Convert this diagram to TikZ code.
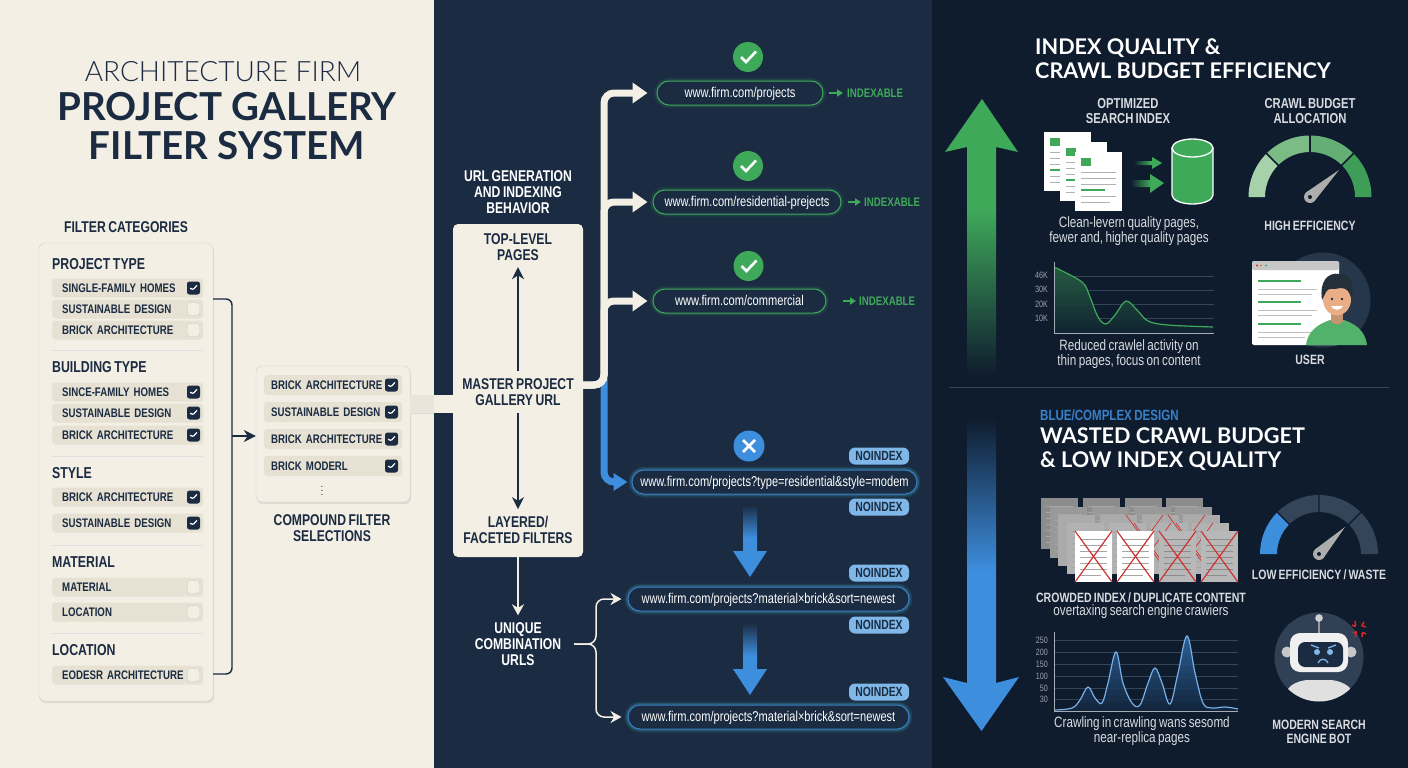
\documentclass[tikz,border=0pt]{standalone}
\usepackage{fontspec}
\usepackage{xcolor}
\usetikzlibrary{arrows.meta, positioning, calc, shadows}
\setmainfont{Liberation Sans}
\newfontfamily\narrowfont[FakeStretch=0.78, WordSpace=0.75]{Liberation Sans}
\newfontfamily\titlefont{Lato}
\newfontfamily\lightfont{Lato Light}
\definecolor{creambg}{HTML}{F3EFE4}
\definecolor{rowbg}{HTML}{E6E1D2}
\definecolor{midbg}{HTML}{1A2B42}
\definecolor{rightbg}{HTML}{0F1C2E}
\definecolor{inkblue}{HTML}{1A2B42}
\definecolor{okgreen}{HTML}{3FA95A}
\definecolor{noblue}{HTML}{3E8EDE}
\definecolor{softblue}{HTML}{7FB7E8}
\definecolor{lightgrey}{HTML}{D8DCE0}
\definecolor{gridline}{HTML}{34455A}
\definecolor{gaugea}{HTML}{A6D1AA}
\definecolor{gaugeb}{HTML}{7DBB86}
\definecolor{gaugec}{HTML}{64AF74}
\definecolor{gauged}{HTML}{3E9E58}
\definecolor{skin}{HTML}{E9AE85}
\definecolor{hair}{HTML}{23303A}
\pgfdeclareverticalshading{greenfade}{100bp}{color(0bp)=(rightbg); color(25bp)=(rightbg); color(55bp)=(okgreen); color(100bp)=(okgreen)}
\pgfdeclareverticalshading{bluefade}{100bp}{color(0bp)=(noblue); color(50bp)=(noblue); color(74bp)=(rightbg); color(100bp)=(rightbg)}
\pgfdeclareverticalshading{midfade}{100bp}{color(0bp)=(noblue); color(52bp)=(noblue); color(75bp)=(midbg); color(100bp)=(midbg)}
\pgfdeclarehorizontalshading{docfade}{100bp}{color(0bp)=(rightbg); color(26bp)=(rightbg); color(55bp)=(okgreen); color(100bp)=(okgreen)}
\tikzset{
    filterrow/.style={
        rectangle,
        rounded corners=3pt,
        fill=rowbg,
        minimum width=151pt,
        minimum height=19pt,
        text width=131pt,
        align=left,
        inner xsep=10pt,
        inner ysep=0pt,
        anchor=west,
        text=inkblue,
        font=\narrowfont\bfseries\fontsize{12.4}{13}\selectfont
    },
    selrow/.style={
        filterrow,
        minimum width=138pt,
        minimum height=20pt,
        text width=124pt,
        inner xsep=7pt
    },
    checkon/.style={
        rectangle,
        rounded corners=2.5pt,
        fill=inkblue,
        minimum size=13pt,
        inner sep=0pt,
        path picture={\draw[white, line width=1.2pt]
            ([shift={(-3.2,0)}]path picture bounding box.center) --
            ([shift={(-1,2.4)}]path picture bounding box.center) --
            ([shift={(3.4,-2.6)}]path picture bounding box.center);}
    },
    checkoff/.style={
        rectangle,
        rounded corners=2.5pt,
        draw=black!20,
        fill=creambg,
        minimum size=12.5pt,
        inner sep=0pt
    },
    card/.style={
        rectangle,
        rounded corners=6pt,
        draw=black!18,
        fill=creambg,
        drop shadow={opacity=0.18, shadow xshift=1pt, shadow yshift=-2pt}
    },
    sechead/.style={
        anchor=west,
        inner sep=0pt,
        text=inkblue,
        font=\narrowfont\bfseries\fontsize{15.8}{17}\selectfont
    },
    panelhead/.style={
        align=center,
        inner sep=0pt,
        font=\narrowfont\bfseries\fontsize{15.6}{16}\selectfont
    },
    subhead/.style={
        panelhead,
        text=lightgrey,
        font=\narrowfont\bfseries\fontsize{13.5}{14.5}\selectfont
    },
    divider/.style={
        draw=black!12,
        line width=0.7pt
    },
    urlok/.style={
        rectangle,
        rounded corners=12pt,
        draw=okgreen,
        line width=1pt,
        fill=midbg,
        minimum height=24pt,
        inner sep=0pt,
        text height=12pt,
        text depth=3pt,
        text=white,
        font=\narrowfont\fontsize{14.2}{15}\selectfont,
        preaction={draw=okgreen, line width=7pt, opacity=0.08},
        preaction={draw=okgreen, line width=4pt, opacity=0.14}
    },
    urlno/.style={
        urlok,
        draw=noblue!85!midbg,
        preaction={draw=noblue, line width=7pt, opacity=0.10},
        preaction={draw=noblue, line width=4pt, opacity=0.16}
    },
    badgeok/.style={
        circle,
        fill=okgreen,
        minimum size=30pt,
        inner sep=0pt,
        path picture={\draw[white, line width=2.6pt]
            ([shift={(-7,0)}]path picture bounding box.center) --
            ([shift={(-2,5)}]path picture bounding box.center) --
            ([shift={(8,-5.5)}]path picture bounding box.center);}
    },
    badgeno/.style={
        circle,
        fill=noblue,
        minimum size=31pt,
        inner sep=0pt,
        path picture={\draw[white, line width=2.8pt]
            ([shift={(-6,-6)}]path picture bounding box.center) --
            ([shift={(6,6)}]path picture bounding box.center)
            ([shift={(-6,6)}]path picture bounding box.center) --
            ([shift={(6,-6)}]path picture bounding box.center);}
    },
    noindex/.style={
        rectangle,
        rounded corners=6pt,
        fill=softblue,
        minimum width=60pt,
        minimum height=17pt,
        inner sep=0pt,
        text=inkblue,
        font=\narrowfont\bfseries\fontsize{13.3}{14}\selectfont
    },
    indexable/.style={
        anchor=west,
        inner sep=0pt,
        text=okgreen,
        font=\narrowfont\bfseries\fontsize{12.4}{13}\selectfont
    },
    okarrow/.style={
        draw=okgreen,
        line width=1.6pt,
        -{Triangle[length=6pt,width=7pt]}
    },
    bus/.style={
        draw=creambg,
        line width=7pt,
        rounded corners=10pt,
        -{Triangle[length=15pt,width=20pt]}
    },
    bluebus/.style={
        bus,
        draw=noblue,
        -{Triangle[length=14pt,width=17pt]}
    },
    inkwire/.style={
        draw=inkblue,
        line width=1.4pt,
        -{Stealth[length=12pt,width=12pt]}
    },
    whitewire/.style={
        draw=creambg,
        line width=1.5pt,
        rounded corners=8pt,
        -{Stealth[length=11pt,width=12pt]}
    },
    caption/.style={
        align=center,
        inner sep=0pt,
        text=lightgrey,
        font=\narrowfont\fontsize{15}{15}\selectfont
    },
    headline/.style={
        anchor=base west,
        inner sep=0pt,
        text=white,
        font=\titlefont\bfseries\fontsize{21.6}{24}\selectfont
    },
    ticklabel/.style={
        anchor=east,
        inner sep=0pt,
        text=lightgrey!70!rightbg,
        font=\narrowfont\fontsize{9.2}{10}\selectfont
    },
    plotgrid/.style={
        draw=gridline,
        line width=0.6pt
    },
    plotaxis/.style={
        draw=lightgrey!75!rightbg,
        line width=1pt
    }
}
% one sheet of the index stack
\newcommand{\docsheet}[4]{%
    \begin{scope}[shift={(#1,#2)}]
        \fill[#3] (0,0) rectangle (37,51);
        \draw[#4, line width=0.8pt] (5,8) -- (32,8) (5,14) -- (32,14) (5,20) -- (32,20) (5,26) -- (32,26) (5,32) -- (32,32) (5,38) -- (32,38) (5,44) -- (26,44);
    \end{scope}
}
\newcommand{\docrow}[3]{%
    \docsheet{#1}{#2}{#3}{black!35}
    \docsheet{#1+42}{#2}{#3}{black!35}
    \docsheet{#1+84}{#2}{#3}{black!35}
    \docsheet{#1+125}{#2}{#3}{black!35}
}
\newcommand{\redcross}[3]{%
    \draw[red!60!gray, line width=#3] (#1,#2) -- ++(37,51) (#1+37,#2) -- ++(-37,51);
}
\newcommand{\topsheet}[2]{%
    \begin{scope}[shift={(#1,#2)}]
        \fill[white] (0,0) rectangle (47,59);
        \fill[okgreen] (6,6) rectangle (16,14);
        \draw[black!30, line width=0.8pt] (6,20) -- (41,20) (6,26) -- (41,26) (6,32) -- (41,32) (6,44) -- (41,44) (6,50) -- (35,50);
        \draw[okgreen, line width=1.3pt] (6,38) -- (30,38);
    \end{scope}
}
\newcommand{\gaugeband}[5]{%
    \fill[#1] (#2:#4) arc[start angle=#2, end angle=#3, radius=#4 pt] -- (#3:#5) arc[start angle=#3, end angle=#2, radius=#5 pt] -- cycle;
}
\newcommand{\gaugeneedle}[2]{%
    \fill[black!32] (#1,#2) -- (-4.2,4.4) -- (4.2,-4.4) -- cycle;
    \fill[black!32] (0,0) circle (6);
    \fill[rightbg] (0,0) circle (2);
}
\begin{document}
\begin{tikzpicture}[x=1pt, y=-1pt]
\useasboundingbox (0,0) rectangle (1408,768);

% Panels
\fill[creambg] (0,0) rectangle (434,768);
\fill[midbg] (434,0) rectangle (932,768);
\fill[rightbg] (932,0) rectangle (1408,768);

% Left: title
\node[inner sep=0pt, text=inkblue, font=\lightfont\fontsize{28}{30}\selectfont] (ttlfirm) at (223,72) {ARCHITECTURE FIRM};
\node[inner sep=0pt, text=inkblue, font=\titlefont\bfseries\fontsize{38.5}{40}\selectfont] (ttlgal) at (227,107) {PROJECT GALLERY};
\node[inner sep=0pt, text=inkblue, font=\titlefont\bfseries\fontsize{38.5}{40}\selectfont] (ttlsys) at (227,146) {FILTER SYSTEM};

% Left: filter categories
\node[panelhead, text=inkblue] (catlabel) at (126,227) {FILTER CATEGORIES};
\node[card, minimum width=174pt, minimum height=458pt] (catcard) at (126,472) {};

\node[sechead] (hproj) at (52,264) {PROJECT TYPE};
\node[filterrow] (r1) at (52,288) {SINGLE-FAMILY HOMES};
\node[filterrow] (r2) at (52,309) {SUSTAINABLE DESIGN};
\node[filterrow] (r3) at (52,330) {BRICK ARCHITECTURE};
\node[checkon] (c1) at (193.5,288) {};
\node[checkoff] (c2) at (193.5,309) {};
\node[checkoff] (c3) at (193.5,330) {};
\draw[divider] (52,350) -- (203,350);

\node[sechead] (hbld) at (52,367) {BUILDING TYPE};
\node[filterrow] (r4) at (52,392) {SINCE-FAMILY HOMES};
\node[filterrow] (r5) at (52,413) {SUSTAINABLE DESIGN};
\node[filterrow] (r6) at (52,435) {BRICK ARCHITECTURE};
\node[checkon] (c4) at (193.5,392) {};
\node[checkon] (c5) at (193.5,413) {};
\node[checkon] (c6) at (193.5,435) {};
\draw[divider] (52,456) -- (203,456);

\node[sechead] (hsty) at (52,473) {STYLE};
\node[filterrow] (r7) at (52,497) {BRICK ARCHITECTURE};
\node[filterrow] (r8) at (52,523) {SUSTAINABLE DESIGN};
\node[checkon] (c7) at (193.5,497) {};
\node[checkon] (c8) at (193.5,523) {};
\draw[divider] (52,545) -- (203,545);

\node[sechead] (hmat) at (52,562) {MATERIAL};
\node[filterrow] (r9) at (52,587) {MATERIAL};
\node[filterrow] (r10) at (52,612) {LOCATION};
\node[checkoff] (c9) at (193.5,587) {};
\node[checkoff] (c10) at (193.5,612) {};
\draw[divider] (52,633) -- (203,633);

\node[sechead] (hloc) at (52,650) {LOCATION};
\node[filterrow] (r11) at (52,675) {EODESR ARCHITECTURE};
\node[checkoff] (c11) at (193.5,675) {};

% Left: compound selections
\node[card, minimum width=154pt, minimum height=136pt] (selcard) at (333,434) {};
\node[selrow] (s1) at (264,385) {BRICK ARCHITECTURE};
\node[selrow] (s2) at (264,412) {SUSTAINABLE DESIGN};
\node[selrow] (s3) at (264,439) {BRICK ARCHITECTURE};
\node[selrow] (s4) at (264,466) {BRICK MODERL};
\node[checkon] (sc1) at (391.5,385) {};
\node[checkon] (sc2) at (391.5,412) {};
\node[checkon] (sc3) at (391.5,439) {};
\node[checkon] (sc4) at (391.5,466) {};
\node[inner sep=0pt, text=inkblue, font=\fontsize{10}{10}\selectfont] (sdots) at (322,488) {$\vdots$};
\node[panelhead, text=inkblue] (sellabel) at (332,528) {COMPOUND FILTER\\SELECTIONS};

% Bracket into the selections
\coordinate (brtop) at (213,299);
\coordinate (brbot) at (213,674);
\coordinate (brmid) at (232,436);
\draw[draw=inkblue, line width=1.4pt, rounded corners=6pt] (brtop) -- (232,299) -- (232,674) -- (brbot);
\draw[inkwire] (brmid) -- (selcard.west |- brmid);

% Strip from selections to the gallery box
\fill[creambg!96!black] (410,395) rectangle (434,413);
\fill[creambg] (434,395) rectangle (453,413);
\draw[black!14, line width=0.6pt] (410,413) -- (434,413);

% Middle: master box
\node[panelhead, text=white] (genlabel) at (518,192) {URL GENERATION\\AND INDEXING\\BEHAVIOR};
\node[rectangle, rounded corners=5pt, fill=creambg, minimum width=130pt, minimum height=333pt, inner sep=0pt] (master) at (518,390.5) {};
\node[panelhead, text=inkblue] (toplvl) at (518,247.5) {TOP-LEVEL\\PAGES};
\node[panelhead, text=inkblue] (mastxt) at (518,392.5) {MASTER PROJECT\\GALLERY URL};
\node[panelhead, text=inkblue] (layered) at (518,530) {LAYERED/\\FACETED FILTERS};
\node[panelhead, text=white] (combo) at (518,644) {UNIQUE\\COMBINATION\\URLS};

\draw[inkwire, shorten >=6pt] (mastxt.north) ++(0,-8) -- (toplvl.south);
\draw[inkwire, shorten >=7pt] (mastxt.south) ++(0,7) -- (layered.north);
\draw[whitewire, shorten >=7pt] (master.south) -- (combo.north);

% URL pills
\node[urlok, minimum width=166pt] (url1) at (740,93) {www.firm.com/projects};
\node[urlok, minimum width=188pt] (url2) at (747,202) {www.firm.com/residential-prejects};
\node[urlok, minimum width=173pt] (url3) at (739.5,301) {www.firm.com/commercial};
\node[urlno, minimum width=285pt] (url4) at (774.5,482) {www.firm.com/projects?type=residential\&style=modem};
\node[urlno, minimum width=281pt] (url5) at (768.5,599) {www.firm.com/projects?material×brick\&sort=newest};
\node[urlno, minimum width=281pt] (url6) at (768.5,717) {www.firm.com/projects?material×brick\&sort=newest};

\node[badgeok] (ok1) at (748,57) {};
\node[badgeok] (ok2) at (748,166) {};
\node[badgeok] (ok3) at (748.5,266) {};
\node[badgeno] (no1) at (749,446) {};

\node[indexable] (idx1) at (847,93) {INDEXABLE};
\node[indexable] (idx2) at (864,202) {INDEXABLE};
\node[indexable] (idx3) at (859,301) {INDEXABLE};
\draw[okarrow, shorten <=5pt, shorten >=4pt] (url1) -- (idx1);
\draw[okarrow, shorten <=6pt, shorten >=3pt] (url2) -- (idx2);
\draw[okarrow, shorten <=16pt, shorten >=3pt] (url3) -- (idx3);

\node[noindex] (ni1) at (879,456) {NOINDEX};
\node[noindex] (ni2) at (879,507) {NOINDEX};
\node[noindex] (ni3) at (879,573) {NOINDEX};
\node[noindex] (ni4) at (879,625) {NOINDEX};
\node[noindex] (ni5) at (879,692) {NOINDEX};

% Flows out of the master box
\coordinate (gatewhite) at (583,385);
\coordinate (trunkwhite) at (604,385);
\coordinate (trunkblue) at (604,378);
\draw[bluebus, shorten >=4pt] (trunkblue) |- (url4.west);
\draw[bus, shorten >=9pt] (gatewhite) -- (trunkwhite) |- (url1.west);
\draw[bus, shorten >=5pt] (gatewhite) -- (trunkwhite) |- (url2.west);
\draw[bus, shorten >=5pt] (gatewhite) -- (trunkwhite) |- (url3.west);

% Thick arrows between the noindex pills
\shade[shading=midfade] (743,505) -- (757,505) -- (757,551) -- (767,551) -- (750,577) -- (733,551) -- (743,551) -- cycle;
\shade[shading=midfade] (743,623) -- (757,623) -- (757,669) -- (767,669) -- (750,695) -- (733,669) -- (743,669) -- cycle;

% Fan out to the urls
\coordinate (combout) at (574,644);
\draw[whitewire, shorten >=6pt] (combout) -- (596,644) |- (url5.west);
\draw[whitewire, shorten >=6pt] (combout) -- (596,644) |- (url6.west);

% Right: big arrows
\shade[shading=greenfade] (982,99) -- (1018,152) -- (996,147) -- (996,375) -- (967,375) -- (967,147) -- (945,152) -- cycle;
\shade[shading=bluefade] (967,412) -- (996,412) -- (996,683) -- (1019,677) -- (981.5,731) -- (943,677) -- (967,683) -- cycle;

% Right top: heading
\node[headline] (qualtl) at (1035,54.5) {INDEX QUALITY \&};
\node[headline] (qualt2) at (1035,78.5) {CRAWL BUDGET EFFICIENCY};

\node[subhead, font=\narrowfont\bfseries\fontsize{14.4}{15}\selectfont] (optlabel) at (1128,111.5) {OPTIMIZED\\SEARCH INDEX};
\node[subhead, font=\narrowfont\bfseries\fontsize{14.4}{15}\selectfont] (alloclabel) at (1310,111.5) {CRAWL BUDGET\\ALLOCATION};

% Right top: pages into the index
\topsheet{1044}{132}
\topsheet{1060}{142}
\topsheet{1075}{152}
\shade[shading=docfade] (1133,161) -- (1152,161) -- (1152,157) -- (1162,163) -- (1152,169) -- (1152,165) -- (1133,165) -- cycle;
\shade[shading=docfade] (1130,180) -- (1150,180) -- (1150,174) -- (1164,183) -- (1150,193) -- (1150,187) -- (1130,187) -- cycle;
\draw[white, fill=okgreen, line width=1.3pt] (1172,148) -- (1172,195) arc[start angle=180, end angle=360, x radius=20.5pt, y radius=9pt] -- (1213,148) -- cycle;
\draw[white, fill=okgreen, line width=1.3pt] (1192.5,148) ellipse (20.5 and 9);
\node[caption] (optcap) at (1129,231.5) {Clean-levern quality pages,\\fewer and, higher quality pages};

% Right top: gauge
\begin{scope}[shift={(1310,197)}, y=1pt]
\gaugeband{gaugea}{180}{135}{61.5}{45}
\gaugeband{gaugeb}{135}{90}{61.5}{45}
\gaugeband{gaugec}{90}{45}{61.5}{45}
\gaugeband{gauged}{45}{0}{61.5}{45}
\draw[rightbg, line width=1.6pt] (135:44) -- (135:62) (90:44) -- (90:62) (45:44) -- (45:62);
\gaugeneedle{29}{27}
\end{scope}
\node[subhead] (effhigh) at (1310,226) {HIGH EFFICIENCY};

% Right top: chart
\draw[plotgrid] (1054,276) -- (1214,276) (1054,290) -- (1214,290) (1054,304) -- (1214,304) (1054,318) -- (1214,318);
\shade[top color=okgreen!50!rightbg, bottom color=okgreen!6!rightbg, opacity=0.9] plot[smooth, tension=0.55] coordinates {(1054,267) (1082,282) (1090,297) (1098,317) (1106,324) (1115,315) (1126,301) (1137,310) (1148,321) (1168,325) (1213,327)} -- (1213,333) -- (1054,333) -- cycle;
\draw[okgreen, line width=1.2pt] plot[smooth, tension=0.55] coordinates {(1054,267) (1082,282) (1090,297) (1098,317) (1106,324) (1115,315) (1126,301) (1137,310) (1148,321) (1168,325) (1213,327)};
\draw[plotaxis] (1054,262) -- (1054,333) -- (1214,333);
\node[ticklabel] (ta1) at (1048,275) {46K};
\node[ticklabel] (ta2) at (1048,289) {30K};
\node[ticklabel] (ta3) at (1048,304) {20K};
\node[ticklabel] (ta4) at (1048,318) {10K};
\node[caption] (crawlcap) at (1129,354) {Reduced crawlel activity on\\thin pages, focus on content};

% Right top: user
\fill[gridline!65!rightbg] (1323,300) circle (47.5);
\fill[white, rounded corners=2pt] (1252,261) rectangle (1339,345);
\fill[black!22, rounded corners=2pt] (1252,261) rectangle (1339,270);
\fill[red!60!gray] (1257,265.5) circle (1.2);
\fill[orange!70!gray] (1261,265.5) circle (1.2);
\fill[okgreen] (1266,265.5) circle (1.2);
\draw[okgreen, line width=1.6pt] (1258,281) -- (1301,281) (1258,302) -- (1301,302) (1258,324) -- (1301,324);
\draw[black!25, line width=1pt] (1258,289) -- (1317,289) (1258,294) -- (1312,294) (1258,310) -- (1317,310) (1258,315) -- (1312,315) (1258,332) -- (1317,332) (1258,337) -- (1305,337);
\begin{scope}[shift={(1337,300)}]
\fill[okgreen!90!white] (-31,45) .. controls (-29,30) and (-18,24) .. (-7,20) -- (7,20) .. controls (18,24) and (28,30) .. (30,45) -- cycle;
\fill[skin!85!black] (-6,10) rectangle (6,21);
\fill[skin!85!black] (-7,20) .. controls (-3,26) and (3,26) .. (7,20) -- cycle;
\fill[skin] (0,-1) ellipse (14 and 16.5);
\fill[hair] (-15,0) .. controls (-18,-20) and (-8,-28) .. (2,-26) .. controls (14,-28) and (18,-14) .. (14.5,0) .. controls (13,-8) and (10,-12) .. (4,-12) .. controls (-3,-10) and (-9,-13) .. (-11,-8) -- cycle;
\fill[hair] (-5,-1) circle (1.3) (5,-1) circle (1.3);
\fill[white] (-6,6) .. controls (-3,11) and (3,11) .. (6,6) -- cycle;
\end{scope}
\node[subhead] (userlabel) at (1310,360) {USER};

% Divider between good and bad
\draw[gridline, line width=1pt] (949,387) -- (1389,387);

% Right bottom: heading
\node[anchor=west, inner sep=0pt, text=noblue!90!black, font=\narrowfont\bfseries\fontsize{14.8}{15}\selectfont] (bluelbl) at (1040,415.5) {BLUE/COMPLEX DESIGN};
\node[headline] (wastl) at (1040,443.5) {WASTED CRAWL BUDGET};
\node[headline] (wast2) at (1040,467.5) {\& LOW INDEX QUALITY};

% Right bottom: crowded sheets
\docrow{1041}{498}{black!45}
\docrow{1049.5}{506.5}{black!40}
\docrow{1058}{515}{black!33}
\docrow{1066.5}{523}{black!30}
\redcross{1126}{515}{0.7pt}
\redcross{1134}{523}{0.7pt}
\redcross{1168}{515}{0.7pt}
\redcross{1176}{523}{0.7pt}
\docsheet{1075}{531}{white}{black!35}
\docsheet{1117}{531}{white}{black!35}
\docsheet{1159}{531}{black!28}{black!45}
\docsheet{1201}{531}{black!28}{black!45}
\redcross{1075}{531}{1.2pt}
\redcross{1117}{531}{1.2pt}
\redcross{1159}{531}{1.2pt}
\redcross{1201}{531}{1.2pt}
\node[subhead] (crowded) at (1141,598) {CROWDED INDEX / DUPLICATE CONTENT};
\node[caption] (overtax) at (1141,612) {overtaxing search engine crawiers};

% Right bottom: gauge
\begin{scope}[shift={(1319,554)}, y=1pt]
\gaugeband{noblue}{180}{135}{59}{42}
\gaugeband{gridline}{135}{90}{59}{42}
\gaugeband{gridline}{90}{45}{59}{42}
\gaugeband{gridline}{45}{0}{59}{42}
\draw[rightbg, line width=1.4pt] (135:41) -- (135:60) (90:41) -- (90:60) (45:41) -- (45:60);
\gaugeneedle{26}{27}
\end{scope}
\node[subhead] (efflow) at (1319,575) {LOW EFFICIENCY / WASTE};

% Right bottom: chart
\draw[plotgrid] (1054,640) -- (1238,640) (1054,652) -- (1238,652) (1054,664) -- (1238,664) (1054,676) -- (1238,676) (1054,688) -- (1238,688) (1054,699) -- (1238,699);
\shade[top color=noblue!65!rightbg, bottom color=noblue!8!rightbg, opacity=0.9] plot[smooth, tension=0.6] coordinates {(1055,710) (1072,708) (1080,700) (1088,687) (1095,698) (1102,703) (1108,683) (1116,652) (1123,683) (1132,703) (1140,705) (1148,683) (1155,668) (1162,683) (1170,704) (1178,673) (1187,636) (1195,673) (1203,703) (1212,708) (1225,707) (1238,709)} -- (1238,711) -- (1055,711) -- cycle;
\draw[noblue!70!white, line width=1.2pt] plot[smooth, tension=0.6] coordinates {(1055,710) (1072,708) (1080,700) (1088,687) (1095,698) (1102,703) (1108,683) (1116,652) (1123,683) (1132,703) (1140,705) (1148,683) (1155,668) (1162,683) (1170,704) (1178,673) (1187,636) (1195,673) (1203,703) (1212,708) (1225,707) (1238,709)};
\draw[plotaxis] (1054,632) -- (1054,711) -- (1238,711);
\node[ticklabel] (tb1) at (1048,640) {250};
\node[ticklabel] (tb2) at (1048,652) {200};
\node[ticklabel] (tb3) at (1048,664) {150};
\node[ticklabel] (tb4) at (1048,676) {100};
\node[ticklabel] (tb5) at (1048,688) {50};
\node[ticklabel] (tb6) at (1048,699) {30};
\node[caption] (wanscap) at (1142,731.5) {Crawling in crawling wans sesomd\\near-replica pages};

% Right bottom: bot
\begin{scope}[shift={(1319,657)}]
\fill[gridline!85!midbg] (0,0) circle (44.5);
\begin{scope}
\clip (0,0) circle (44.5);
\fill[black!12] (-33,50) -- (-32,34) .. controls (-29,26) and (-16,23) .. (-11,23) -- (11,23) .. controls (16,23) and (29,26) .. (33,34) -- (33,50) -- cycle;
\end{scope}
\fill[black!22] (-32,-5) circle (5.5);
\fill[black!22] (32,-5) circle (5.5);
\draw[black!40, line width=1.4pt] (0,-38) -- (0,-24);
\fill[black!18] (0,-39) circle (3.8);
\fill[black!6, rounded corners=10pt] (-29,-24) rectangle (29,15);
\fill[midbg, rounded corners=7pt] (-21,-15) rectangle (24,10);
\fill[softblue] (-2,-5) circle (3) (11,-5) circle (3);
\draw[softblue, line width=1.3pt] (-8,-12) -- (0,-9) (17,-12) -- (9,-9);
\draw[softblue, line width=1.3pt] (-1,6) .. controls (1,1) and (7,1) .. (9,6);
\end{scope}
\draw[red!70!gray, line width=1.5pt] (1352,625) .. controls (1356,627) .. (1355,621) (1364,622) .. controls (1361,626) .. (1366,627) (1353,633) .. controls (1357,631) .. (1355,637) (1366,634) .. controls (1362,632) .. (1362,637);
\node[subhead] (botlabel) at (1319,732) {MODERN SEARCH\\ENGINE BOT};
\end{tikzpicture}
\end{document}
